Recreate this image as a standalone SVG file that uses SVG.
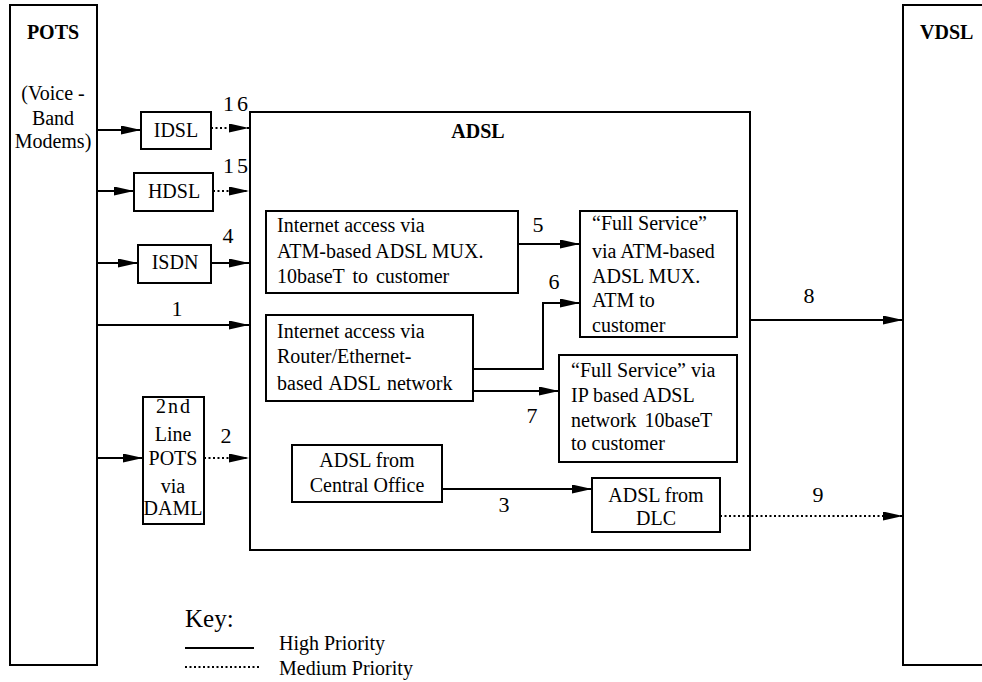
<svg xmlns="http://www.w3.org/2000/svg" width="982" height="682" viewBox="0 0 982 682">
<style>
.dg-box{fill:#fff;stroke:#000;stroke-width:2}
.dg-ln{fill:none;stroke:#000;stroke-width:2}
.dg-dot{fill:none;stroke:#000;stroke-width:2;stroke-dasharray:2 2.5}
</style>
<defs>
<marker id="ah" markerUnits="userSpaceOnUse" markerWidth="20" markerHeight="10" refX="20" refY="4.5" orient="auto">
<path d="M0,0 L20,4.5 L0,9 Z" fill="#000"/>
</marker>
</defs>
<rect width="982" height="682" fill="#fff"/>
<g id="pots">
<rect class="dg-box" x="10" y="5" width="87" height="660"/>
<text font-family="Liberation Serif" font-size="20" font-weight="bold" text-anchor="middle" x="53" y="39">POTS</text>
<text font-family="Liberation Serif" font-size="20" text-anchor="middle" x="53" y="100">(Voice -</text>
<text font-family="Liberation Serif" font-size="20" text-anchor="middle" x="53" y="125">Band</text>
<text font-family="Liberation Serif" font-size="20" text-anchor="middle" x="53" y="148">Modems)</text>
</g>
<g id="vdsl">
<rect class="dg-box" x="903" y="5" width="90" height="660"/>
<text font-family="Liberation Serif" font-size="20" font-weight="bold" x="920" y="39">VDSL</text>
</g>
<g id="adsl">
<rect class="dg-box" x="250" y="112" width="500" height="438"/>
<text font-family="Liberation Serif" font-size="20" font-weight="bold" text-anchor="middle" x="478" y="138">ADSL</text>
</g>
<g id="idsl">
<rect class="dg-box" x="141" y="112" width="70" height="37"/>
<text font-family="Liberation Serif" font-size="20" text-anchor="middle" x="176" y="137">IDSL</text>
</g>
<g id="hdsl">
<rect class="dg-box" x="134" y="173" width="79" height="38"/>
<text font-family="Liberation Serif" font-size="20" text-anchor="middle" x="174" y="198">HDSL</text>
</g>
<g id="isdn">
<rect class="dg-box" x="138" y="245" width="73" height="38"/>
<text font-family="Liberation Serif" font-size="20" text-anchor="middle" x="175" y="269">ISDN</text>
</g>
<g id="daml">
<rect class="dg-box" x="143" y="397" width="61" height="127"/>
<text font-family="Liberation Serif" font-size="20" text-anchor="middle" x="174" y="413" letter-spacing="2">2nd</text>
<text font-family="Liberation Serif" font-size="20" text-anchor="middle" x="173" y="441">Line</text>
<text font-family="Liberation Serif" font-size="20" text-anchor="middle" x="173" y="465">POTS</text>
<text font-family="Liberation Serif" font-size="20" text-anchor="middle" x="173" y="493">via</text>
<text font-family="Liberation Serif" font-size="20" text-anchor="middle" x="173" y="515">DAML</text>
</g>
<g id="atm-internet">
<rect class="dg-box" x="266" y="211" width="252" height="82"/>
<text font-family="Liberation Serif" font-size="20" x="277" y="232">Internet access via</text>
<text font-family="Liberation Serif" font-size="20" x="277" y="258">ATM-based ADSL MUX.</text>
<text font-family="Liberation Serif" font-size="20" x="277" y="283" word-spacing="3">10baseT to customer</text>
</g>
<g id="atm-full">
<rect class="dg-box" x="580" y="211" width="157" height="126"/>
<text font-family="Liberation Serif" font-size="20" x="592" y="230">“Full Service”</text>
<text font-family="Liberation Serif" font-size="20" x="592" y="258">via ATM-based</text>
<text font-family="Liberation Serif" font-size="20" x="592" y="283">ADSL MUX.</text>
<text font-family="Liberation Serif" font-size="20" x="592" y="307">ATM to</text>
<text font-family="Liberation Serif" font-size="20" x="592" y="332">customer</text>
</g>
<g id="router-internet">
<rect class="dg-box" x="266" y="315" width="207" height="86"/>
<text font-family="Liberation Serif" font-size="20" x="277" y="338">Internet access via</text>
<text font-family="Liberation Serif" font-size="20" x="277" y="363">Router/Ethernet-</text>
<text font-family="Liberation Serif" font-size="20" x="277" y="390" word-spacing="2">based ADSL network</text>
</g>
<g id="ip-full">
<rect class="dg-box" x="559" y="355" width="178" height="107"/>
<text font-family="Liberation Serif" font-size="20" x="571" y="377">“Full Service” via</text>
<text font-family="Liberation Serif" font-size="20" x="571" y="402">IP based ADSL</text>
<text font-family="Liberation Serif" font-size="20" x="571" y="427" word-spacing="3">network 10baseT</text>
<text font-family="Liberation Serif" font-size="20" x="571" y="450">to customer</text>
</g>
<g id="co">
<rect class="dg-box" x="292" y="445" width="150" height="57"/>
<text font-family="Liberation Serif" font-size="20" text-anchor="middle" x="367" y="467">ADSL from</text>
<text font-family="Liberation Serif" font-size="20" text-anchor="middle" x="367" y="492">Central Office</text>
</g>
<g id="dlc">
<rect class="dg-box" x="592" y="478" width="128" height="54"/>
<text font-family="Liberation Serif" font-size="20" text-anchor="middle" x="656" y="502">ADSL from</text>
<text font-family="Liberation Serif" font-size="20" text-anchor="middle" x="656" y="525">DLC</text>
</g>
<g id="connectors">
<line class="dg-ln" x1="97" y1="130" x2="141" y2="130" marker-end="url(#ah)"/>
<line class="dg-dot" x1="211" y1="128" x2="249" y2="128" marker-end="url(#ah)"/>
<line class="dg-ln" x1="97" y1="191" x2="134" y2="191" marker-end="url(#ah)"/>
<line class="dg-dot" x1="213" y1="191" x2="249" y2="191" marker-end="url(#ah)"/>
<line class="dg-ln" x1="97" y1="263" x2="138" y2="263" marker-end="url(#ah)"/>
<line class="dg-ln" x1="211" y1="263" x2="249" y2="263" marker-end="url(#ah)"/>
<line class="dg-ln" x1="97" y1="325" x2="249" y2="325" marker-end="url(#ah)"/>
<line class="dg-ln" x1="97" y1="458" x2="143" y2="458" marker-end="url(#ah)"/>
<line class="dg-dot" x1="204" y1="458" x2="249" y2="458" marker-end="url(#ah)"/>
<line class="dg-ln" x1="518" y1="244" x2="580" y2="244" marker-end="url(#ah)"/>
<polyline class="dg-ln" points="473,369 543,369 543,303 580,303" marker-end="url(#ah)"/>
<line class="dg-ln" x1="473" y1="391" x2="559" y2="391" marker-end="url(#ah)"/>
<line class="dg-ln" x1="442" y1="489" x2="592" y2="489" marker-end="url(#ah)"/>
<line class="dg-ln" x1="750" y1="320" x2="903" y2="320" marker-end="url(#ah)"/>
<line class="dg-dot" x1="720" y1="516" x2="903" y2="516" marker-end="url(#ah)"/>
<text font-family="Liberation Serif" font-size="22" text-anchor="middle" x="237" y="111" letter-spacing="3">16</text>
<text font-family="Liberation Serif" font-size="22" text-anchor="middle" x="237" y="173" letter-spacing="3">15</text>
<text font-family="Liberation Serif" font-size="22" text-anchor="middle" x="228" y="243">4</text>
<text font-family="Liberation Serif" font-size="22" text-anchor="middle" x="177" y="316">1</text>
<text font-family="Liberation Serif" font-size="22" text-anchor="middle" x="226" y="443">2</text>
<text font-family="Liberation Serif" font-size="22" text-anchor="middle" x="538" y="232">5</text>
<text font-family="Liberation Serif" font-size="22" text-anchor="middle" x="554" y="289">6</text>
<text font-family="Liberation Serif" font-size="22" text-anchor="middle" x="532" y="423">7</text>
<text font-family="Liberation Serif" font-size="22" text-anchor="middle" x="504" y="512">3</text>
<text font-family="Liberation Serif" font-size="22" text-anchor="middle" x="809" y="303">8</text>
<text font-family="Liberation Serif" font-size="22" text-anchor="middle" x="818" y="502">9</text>
</g>
<g id="key">
<text font-family="Liberation Serif" x="185" y="627" font-size="25">Key:</text>
<line class="dg-ln" x1="185" y1="648" x2="254" y2="648"/>
<text font-family="Liberation Serif" x="279" y="650" font-size="20">High Priority</text>
<line class="dg-dot" x1="185" y1="667" x2="259" y2="667"/>
<text font-family="Liberation Serif" x="279" y="675" font-size="20">Medium Priority</text>
</g>
</svg>
